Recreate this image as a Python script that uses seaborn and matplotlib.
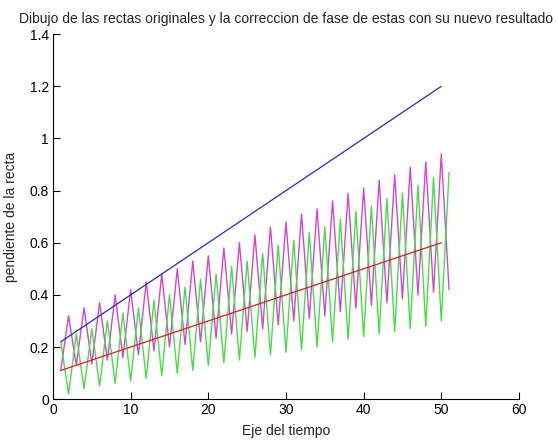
import numpy as np
import matplotlib
matplotlib.use("Agg")
import matplotlib.pyplot as plt
import seaborn as sns

# original lines (endpoints)
recta_x = [1, 50]
recta_azul = [0.22, 1.20]
recta_roja = [0.11, 0.60]

# phase-corrected signals, sampled at t = 1..51
t = list(range(1, 52))
magenta = [0.11, 0.32, 0.13, 0.35, 0.135, 0.37, 0.15, 0.40, 0.16, 0.42,
           0.17, 0.45, 0.185, 0.48, 0.20, 0.50, 0.21, 0.53, 0.22, 0.55,
           0.235, 0.58, 0.25, 0.60, 0.26, 0.63, 0.27, 0.66, 0.285, 0.68,
           0.30, 0.71, 0.31, 0.73, 0.32, 0.76, 0.335, 0.79, 0.35, 0.81,
           0.36, 0.84, 0.37, 0.86, 0.385, 0.89, 0.40, 0.91, 0.41, 0.94,
           0.42]
verde = [0.22, 0.02, 0.25, 0.04, 0.27, 0.05, 0.30, 0.06, 0.33, 0.07,
         0.35, 0.08, 0.38, 0.09, 0.40, 0.10, 0.43, 0.11, 0.46, 0.13,
         0.48, 0.14, 0.51, 0.15, 0.53, 0.16, 0.56, 0.17, 0.59, 0.18,
         0.61, 0.19, 0.64, 0.20, 0.66, 0.22, 0.69, 0.23, 0.72, 0.24,
         0.74, 0.25, 0.77, 0.26, 0.79, 0.27, 0.82, 0.28, 0.85, 0.30,
         0.87]

x_ticks = [0, 10, 20, 30, 40, 50, 60]
y_ticks = [0, 0.2, 0.4, 0.6, 0.8, 1, 1.2, 1.4]
y_tick_labels = ["0", "0.2", "0.4", "0.6", "0.8", "1", "1.2", "1.4"]

sns.set_style("ticks")
plt.rcParams["font.family"] = ["Liberation Sans", "DejaVu Sans"]

fig = plt.figure(figsize=(5.58, 4.44), dpi=100)
ax = fig.add_axes([0.095, 0.101, 0.835, 0.822])

sns.lineplot(x=t, y=magenta, color="#d048d0", lw=1.0, ax=ax,
             estimator=None, sort=False)
sns.lineplot(x=t, y=verde, color="#48dd48", lw=1.0, ax=ax,
             estimator=None, sort=False)
sns.lineplot(x=recta_x, y=recta_azul, color="#2828c8", lw=0.9, ax=ax,
             estimator=None, sort=False)
sns.lineplot(x=recta_x, y=recta_roja, color="#d82020", lw=0.9, ax=ax,
             estimator=None, sort=False)

ax.set_xlim(0, 60)
ax.set_ylim(0, 1.4)
ax.set_xticks(x_ticks)
ax.set_yticks(y_ticks)
ax.set_yticklabels(y_tick_labels)
ax.tick_params(direction="in", length=5, width=0.8, labelsize=10,
               colors="black", pad=3)
for side in ["top", "right"]:
    ax.spines[side].set_visible(False)
for side in ["left", "bottom"]:
    ax.spines[side].set_linewidth(0.8)
    ax.spines[side].set_color("black")

ax.set_xlabel("Eje del tiempo", fontsize=10, labelpad=5)
ax.set_ylabel("pendiente de la recta", fontsize=10, labelpad=8)
ax.set_title("Dibujo de las rectas originales y la correccion de fase de estas con su nuevo resultado",
             fontsize=10, pad=8)

fig.savefig("out.png", dpi=100)
